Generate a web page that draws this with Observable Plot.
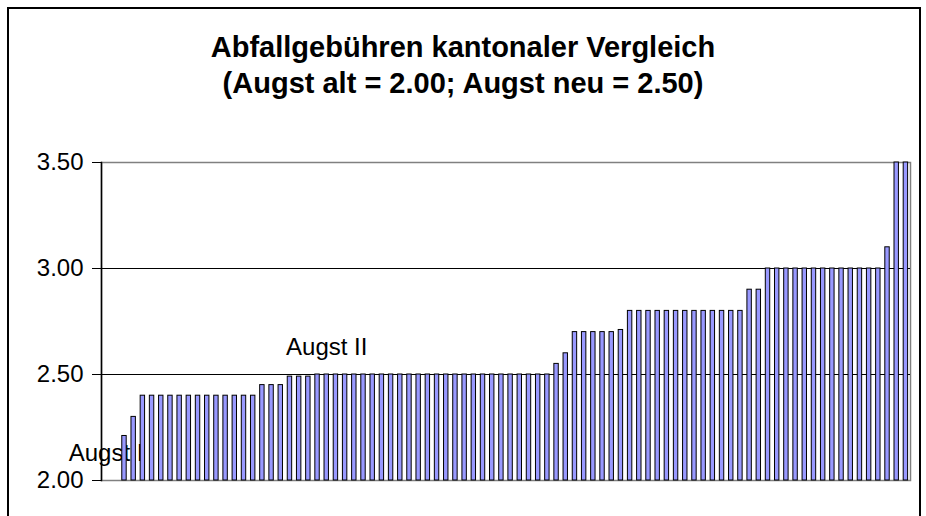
<!DOCTYPE html>
<html>
<head>
<meta charset="utf-8">
<script src="https://cdn.jsdelivr.net/npm/d3@7"></script>
<script src="https://cdn.jsdelivr.net/npm/@observablehq/plot@0.6"></script>
<style>
  html, body { margin: 0; padding: 0; background: #fff; }
  #wrap { position: relative; width: 926px; height: 516px; overflow: hidden; background: #fff; }
  #border { position: absolute; left: 7px; top: 7px; width: 914px; height: 600px; border: 2px solid #000; box-sizing: border-box; }
  .title { position: absolute; left: 0; width: 926px; text-align: center; font-family: Arial, "Liberation Sans", sans-serif; font-weight: bold; font-size: 29px; color: #000; line-height: 36px; }
  #chart { position: absolute; left: 0; top: 0; }
</style>
</head>
<body>
<div id="wrap">
  <div id="border"></div>
  <div id="chart"></div>
  <div class="title" style="top:29px">Abfallgebühren kantonaler Vergleich</div>
  <div class="title" style="top:65px">(Augst alt = 2.00; Augst neu = 2.50)</div>
</div>
<script>
// Fee per municipality (CHF), sorted ascending; index 0 = Augst I (old), index 24 = Augst II (new)
const fees = [
  2.00, 2.00, 2.21, 2.30,
  2.40, 2.40, 2.40, 2.40, 2.40, 2.40, 2.40, 2.40, 2.40, 2.40, 2.40, 2.40, 2.40,
  2.45, 2.45, 2.45,
  2.49, 2.49, 2.49,
  2.50, 2.50, 2.50, 2.50, 2.50, 2.50, 2.50, 2.50, 2.50, 2.50, 2.50, 2.50, 2.50,
  2.50, 2.50, 2.50, 2.50, 2.50, 2.50, 2.50, 2.50, 2.50, 2.50, 2.50, 2.50, 2.50,
  2.55, 2.60,
  2.70, 2.70, 2.70, 2.70, 2.70, 2.71,
  2.80, 2.80, 2.80, 2.80, 2.80, 2.80, 2.80, 2.80, 2.80, 2.80, 2.80, 2.80, 2.80,
  2.90, 2.90,
  3.00, 3.00, 3.00, 3.00, 3.00, 3.00, 3.00, 3.00, 3.00, 3.00, 3.00, 3.00, 3.00,
  3.10, 3.50, 3.50
];
const labelIndex = [0, 24];
const labelText = ["Augst I", "Augst II"];
const yTicks = [2.0, 2.5, 3.0, 3.5];
const yBase = 2.0;

const rows = fees.map((v, i) => ({i, v}));
const labels = labelIndex.map((idx, k) => ({i: idx, v: fees[idx], t: labelText[k]}));

const chart = Plot.plot({
  width: 926,
  height: 516,
  marginLeft: 101,
  marginRight: 16,
  marginTop: 162,
  marginBottom: 36,
  style: {fontFamily: "Arial, 'Liberation Sans', sans-serif", fontSize: "24px", color: "#000", background: "transparent"},
  x: {type: "band", domain: rows.map(d => d.i), paddingInner: 0.52, paddingOuter: 0.26, round: false, axis: null},
  y: {domain: [2, 3.5], ticks: yTicks, tickFormat: d => d.toFixed(2), label: null},
  marks: [
    Plot.frame({stroke: "#808080", strokeWidth: 1.5}),
    Plot.ruleY(yTicks.filter(t => t > 2 && t < 3.5), {stroke: "#000", strokeWidth: 1.2}),
    Plot.text(labels, {x: "i", y: "v", text: "t", dy: -27, fontSize: 24, fill: "#000", textAnchor: "middle", lineAnchor: "middle"}),
    Plot.barY(rows.filter(d => d.v > yBase), {x: "i", y1: yBase, y2: "v", fill: "#9999ff", stroke: "#000", strokeWidth: 1}),
    Plot.frame({anchor: "left", stroke: "#000", strokeWidth: 1.5}),
    Plot.axisY({ticks: yTicks, tickFormat: d => d.toFixed(2), tickSize: 9, tickPadding: 9, fontSize: 24, stroke: "#000", fill: "#000", label: null})
  ]
});
document.getElementById("chart").appendChild(chart);
</script>
</body>
</html>
